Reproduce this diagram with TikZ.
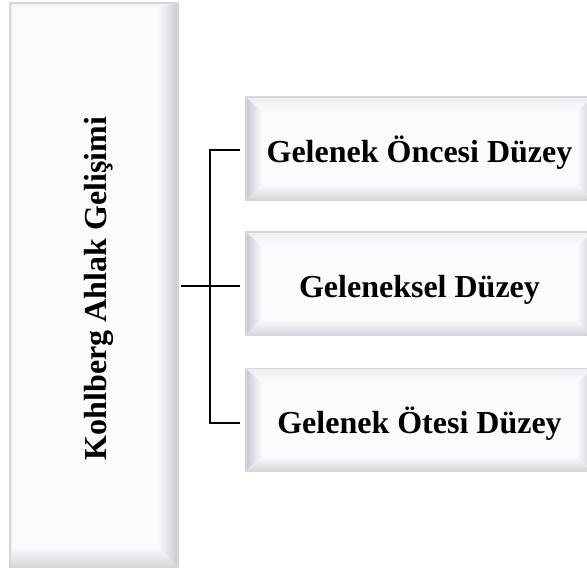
\documentclass[tikz,border=0pt]{standalone}
\usepackage{fontspec}
\setmainfont{Liberation Serif}
\usetikzlibrary{calc}
\definecolor{face}{HTML}{FBFBFD}
\definecolor{bevdark}{HTML}{C8C8D2}
\definecolor{bevmid}{HTML}{D4D4DC}
\definecolor{bevlight}{HTML}{EEEEF3}
\definecolor{edgegray}{HTML}{D6D6DA}
% #1 node, #2 left, #3 top, #4 right, #5 bottom widths, #6-#9 colours L T R B
\newcommand{\bevelset}[9]{%
  \shade[left color=#6, right color=face]
    (#1.south west) -- (#1.north west) -- ($(#1.north west)+(#2,-#3)$) -- ($(#1.south west)+(#2,#5)$) -- cycle;
  \shade[top color=#7, bottom color=face]
    (#1.north west) -- (#1.north east) -- ($(#1.north east)+(-#4,-#3)$) -- ($(#1.north west)+(#2,-#3)$) -- cycle;
  \shade[left color=face, right color=#8]
    (#1.north east) -- (#1.south east) -- ($(#1.south east)+(-#4,#5)$) -- ($(#1.north east)+(-#4,-#3)$) -- cycle;
  \shade[top color=face, bottom color=#9]
    (#1.south west) -- (#1.south east) -- ($(#1.south east)+(-#4,#5)$) -- ($(#1.south west)+(#2,#5)$) -- cycle;
  \draw[edge] (#1.south west) rectangle (#1.north east);
}
\begin{document}
\begin{tikzpicture}[x=1pt,y=1pt,
  box/.style={fill=face, draw=none, outer sep=0pt, inner sep=0pt,
    font=\fontsize{32}{38}\selectfont\bfseries, text height=35pt, text depth=7pt},
  lbl/.style={inner sep=0pt, outer sep=0pt,
    font=\fontsize{32}{38}\selectfont\bfseries, text height=35pt, text depth=7pt},
  levelbox/.style={box, minimum width=347pt, minimum height=103pt},
  conn/.style={line width=2pt, black},
  edge/.style={draw=edgegray, line width=1.3pt}]
\useasboundingbox (0,0) rectangle (587,571);
\clip (0,0) rectangle (587,571);

% left box
\node[box, minimum width=168pt, minimum height=564pt] (L) at (94,286) {};
\bevelset{L}{3}{5}{20}{20}{bevlight}{bevlight}{bevdark}{bevmid}
\node[lbl, rotate=90] (Ltext) at (92,282.5) {Kohlberg Ahlak Gelişimi};

% right boxes
\node[levelbox] (B1) at (419.5,422.5) {Gelenek Öncesi Düzey};
\bevelset{B1}{16}{14}{16}{15}{bevdark}{bevlight}{bevdark}{bevmid}
\node[levelbox] (B2) at (419.5,287.5) {Geleneksel Düzey};
\bevelset{B2}{16}{14}{16}{15}{bevdark}{bevlight}{bevdark}{bevmid}
\node[levelbox] (B3) at (419.5,151) {Gelenek Ötesi Düzey};
\bevelset{B3}{16}{14}{16}{15}{bevdark}{bevlight}{bevdark}{bevmid}

% connectors
\draw[conn] ($(B1.west)+(-6,-1.5)$) -| ($(B2.west)+(-36,0)$) |- ($(B3.west)+(-6,-3)$);
\draw[conn] ($(L.east |- B2.west)+(3,-3)$) -- ($(B2.west)+(-6,-3)$);
\end{tikzpicture}
\end{document}
